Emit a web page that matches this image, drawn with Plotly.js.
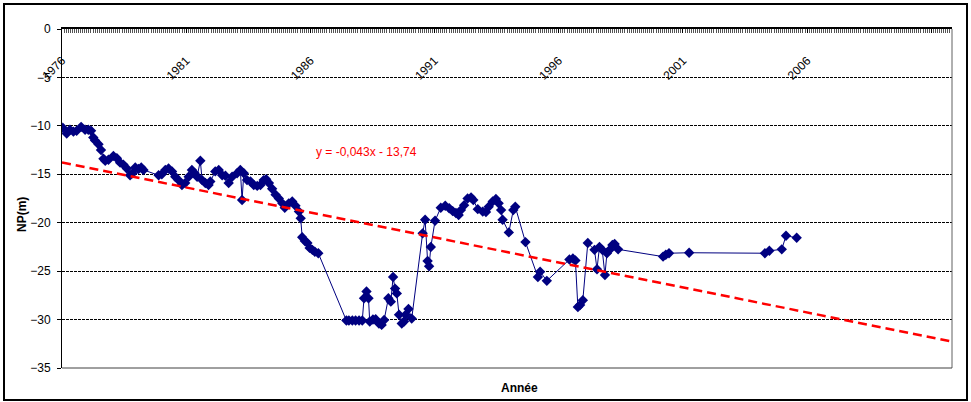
<!DOCTYPE html>
<html>
<head>
<meta charset="utf-8">
<script src="https://cdn.plot.ly/plotly-3.0.1.min.js"></script>
<style>
  html, body { margin: 0; padding: 0; background: #fff; }
  #wrap { position: relative; width: 971px; height: 402px; }
  #chart { position: absolute; left: 0; top: 0; width: 971px; height: 402px; }
  #frame { position: absolute; left: 3px; top: 3px; width: 965px; height: 398px;
           box-sizing: border-box; border: 2px solid #000; pointer-events: none; }
</style>
</head>
<body>
<div id="wrap"><div id="chart"></div><div id="frame"></div></div>
<script>
// Observation dates (decimal years) and water level NP (m)
const years = [
  1976.03, 1976.19, 1976.32, 1976.46, 1976.59, 1976.77, 1976.93, 1977.06, 1977.17, 1977.26,
  1977.33, 1977.47, 1977.57, 1977.67, 1977.74, 1977.87, 1978.07, 1978.21, 1978.34, 1978.47,
  1978.61, 1978.74, 1978.84, 1978.95, 1979.08, 1979.19, 1979.28, 1979.89, 1980.02, 1980.16,
  1980.29, 1980.43, 1980.56, 1980.69, 1980.83, 1980.96, 1981.10, 1981.23, 1981.34, 1981.44,
  1981.57, 1981.64, 1981.77, 1981.90, 1981.97, 1982.17, 1982.31, 1982.45, 1982.58, 1982.71,
  1982.85, 1983.05, 1983.18, 1983.25, 1983.32, 1983.45, 1983.59, 1983.72, 1983.86, 1983.99,
  1984.12, 1984.22, 1984.33, 1984.46, 1984.60, 1984.73, 1984.87, 1984.97, 1985.13, 1985.27,
  1985.40, 1985.54, 1985.61, 1985.67, 1985.78, 1985.88, 1985.97, 1986.08, 1986.18, 1986.32,
  1987.45, 1987.55, 1987.69, 1987.82, 1987.96, 1988.09, 1988.16, 1988.26, 1988.34, 1988.39,
  1988.52, 1988.63, 1988.76, 1988.87, 1988.97, 1989.14, 1989.24, 1989.33, 1989.41, 1989.48,
  1989.57, 1989.68, 1989.77, 1989.84, 1989.95, 1990.08, 1990.52, 1990.62, 1990.72, 1990.78,
  1990.85, 1991.02, 1991.25, 1991.43, 1991.59, 1991.73, 1991.86, 1991.97, 1992.06, 1992.19,
  1992.33, 1992.47, 1992.56, 1992.74, 1992.94, 1993.07, 1993.18, 1993.34, 1993.47, 1993.58,
  1993.68, 1993.74, 1993.99, 1994.17, 1994.25, 1994.66, 1995.16, 1995.25, 1995.52, 1996.43,
  1996.57, 1996.67, 1996.77, 1996.86, 1996.97, 1997.17, 1997.44, 1997.54, 1997.64, 1997.75,
  1997.86, 1997.94, 1998.05, 1998.16, 1998.25, 1998.39, 2000.20, 2000.31, 2000.44, 2001.25,
  2004.30, 2004.48, 2004.98, 2005.15, 2005.58
];
const depth = [
  -10.2, -10.8, -10.4, -10.6, -10.5, -10.1, -10.4, -10.4, -10.5, -11.2,
  -11.5, -11.9, -12.5, -13.4, -13.6, -13.5, -13.1, -13.35, -13.8, -14.0,
  -14.4, -15.1, -14.9, -14.3, -14.45, -14.3, -14.55, -15.1, -15.0, -14.55,
  -14.4, -14.7, -15.25, -15.6, -16.1, -15.9, -15.25, -14.55, -14.9, -15.25,
  -13.6, -15.6, -15.9, -16.1, -15.75, -14.7, -14.55, -15.1, -15.15, -15.9,
  -15.25, -14.9, -14.55, -17.65, -14.9, -15.6, -15.75, -16.1, -16.2, -16.1,
  -15.6, -15.5, -15.9, -16.5, -17.1, -17.5, -18.0, -18.45, -18.0, -17.8,
  -18.25, -18.85, -19.55, -21.5, -21.9, -22.1, -22.6, -22.8, -23.0, -23.15,
  -30.1, -30.1, -30.1, -30.1, -30.1, -30.1, -27.8, -27.1, -27.8, -30.2,
  -30.0, -29.97, -30.4, -30.55, -30.05, -27.8, -28.15, -25.6, -26.8, -27.3,
  -29.5, -30.4, -30.2, -29.5, -28.9, -29.9, -21.1, -19.7, -23.95, -24.5,
  -22.5, -19.8, -18.45, -18.25, -18.5, -18.8, -19.0, -19.2, -18.7, -18.2,
  -17.5, -17.4, -17.65, -18.6, -18.85, -18.9, -18.35, -17.8, -17.55, -18.0,
  -18.7, -19.7, -21.0, -18.7, -18.35, -22.0, -25.6, -25.05, -26.0, -23.8,
  -23.7, -23.9, -28.7, -28.5, -28.0, -22.1, -22.8, -24.8, -22.5, -22.8,
  -25.4, -23.15, -22.8, -22.3, -22.2, -22.75, -23.5, -23.3, -23.15, -23.1,
  -23.15, -22.9, -22.75, -21.35, -21.55
];
// Axis tick labels (top axis)
const tickYears = [1976, 1981, 1986, 1991, 1996, 2001, 2006];
const tickLabels = ['1976', '1981', '1986', '1991', '1996', '2001', '2006'];
// Linear trend as printed on the chart: y = -0,043x - 13,74 (x = month index)
const trendSlope = -0.043;
const trendIntercept = -13.74;
const trendLabel = 'y = -0,043x - 13,74';

const xStart = 1976, xEnd = 1976 + 430 / 12;
const trendX = [xStart, xEnd];
const trendY = trendX.map(x => trendSlope * ((x - 1976) * 12 + 1) + trendIntercept);

const FONT = 'Arial, "Liberation Sans", sans-serif';

const traces = [
  {
    x: years, y: depth, type: 'scatter', mode: 'lines+markers',
    line: { color: '#000080', width: 1 },
    marker: { symbol: 'diamond', size: 8, color: '#000080' },
    hoverinfo: 'x+y', showlegend: false
  },
  {
    x: trendX, y: trendY, type: 'scatter', mode: 'lines',
    line: { color: '#FF0000', width: 2.5, dash: '9px,5px' },
    hoverinfo: 'skip', showlegend: false
  },
  {
    x: [1990], y: [-20], xaxis: 'x2', yaxis: 'y', type: 'scatter', mode: 'markers',
    marker: { opacity: 0 }, hoverinfo: 'skip', showlegend: false
  }
];

const layout = {
  width: 971, height: 402,
  margin: { l: 62, r: 19, t: 29, b: 34 },
  paper_bgcolor: 'rgba(0,0,0,0)', plot_bgcolor: '#fff',
  font: { family: FONT, size: 12, color: '#000' },
  xaxis: {
    side: 'top', range: [xStart, xEnd],
    showline: true, linecolor: '#000', linewidth: 2,
    showgrid: false, zeroline: false,
    tickmode: 'linear', tick0: 1976, dtick: 5,
    ticks: 'inside', ticklen: 4, tickcolor: '#000', tickwidth: 1,
    showticklabels: false,
    minor: { tickmode: 'linear', tick0: 1976, dtick: 1 / 12, ticks: 'inside', ticklen: 4, tickcolor: '#555', tickwidth: 1, showgrid: false }
  },
  xaxis2: {
    overlaying: 'x', anchor: 'free', position: 0.937, side: 'bottom',
    range: [xStart, xEnd],
    showline: false, showgrid: false, zeroline: false, ticks: '',
    tickmode: 'array', tickvals: tickYears, ticktext: tickLabels,
    tickangle: -45, tickfont: { family: FONT, size: 12, color: '#000' }
  },
  yaxis: {
    range: [-35, 0], tickmode: 'linear', tick0: 0, dtick: 5,
    showline: true, linecolor: '#000', linewidth: 1,
    ticks: 'outside', ticklen: 4, tickcolor: '#000',
    showgrid: true, gridcolor: '#000', gridwidth: 1, griddash: '3px,1px',
    zeroline: false, ticklabelstandoff: 4,
    tickfont: { family: FONT, size: 12, color: '#000' }
  },
  shapes: [
    { type: 'line', xref: 'paper', yref: 'paper', x0: 1, x1: 1, y0: 0, y1: 1, line: { color: '#606060', width: 1 } },
    { type: 'line', xref: 'paper', yref: 'paper', x0: 0, x1: 1, y0: 0, y1: 0, line: { color: '#404040', width: 1 } }
  ],
  annotations: [
    { text: trendLabel, xref: 'x', yref: 'y', x: 1988.25, y: -12.75, showarrow: false,
      font: { family: FONT, size: 12, color: '#FF0000' }, xanchor: 'center', yanchor: 'middle' },
    { text: '<b>Année</b>', xref: 'paper', yref: 'paper', x: (519 - 62) / 890, y: -(388 - 368) / 339,
      showarrow: false, xanchor: 'center', yanchor: 'middle', font: { family: FONT, size: 12, color: '#000' } },
    { text: '<b>NP(m)</b>', xref: 'paper', yref: 'paper', x: (22 - 62) / 890, y: (368 - 215) / 339,
      showarrow: false, textangle: -90, xanchor: 'center', yanchor: 'middle', font: { family: FONT, size: 12, color: '#000' } }
  ]
};

Plotly.newPlot('chart', traces, layout, { displayModeBar: false, staticPlot: true });
</script>
</body>
</html>
